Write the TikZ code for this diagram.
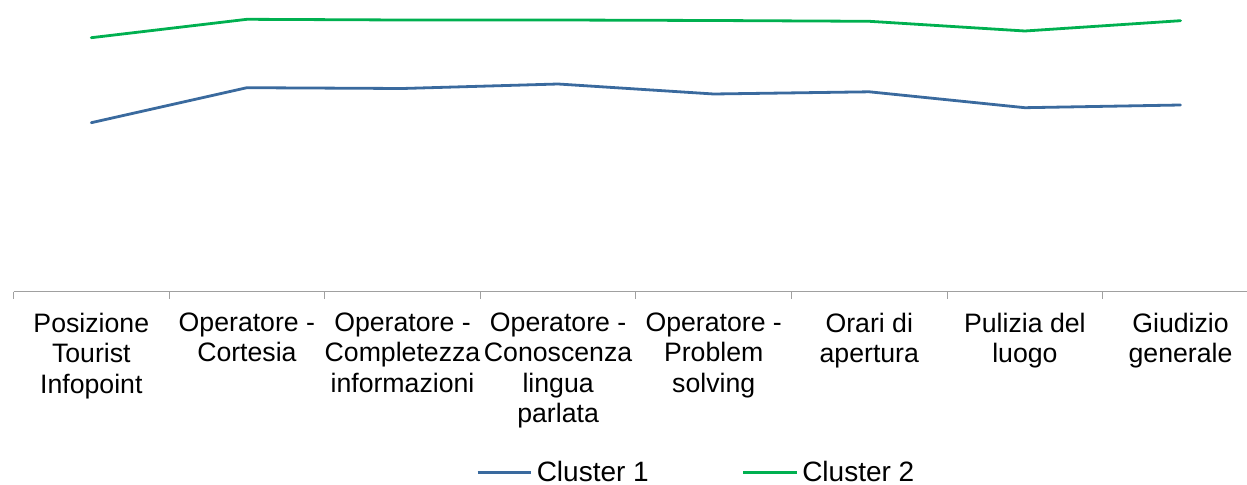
\documentclass[tikz,border=0pt]{standalone}
\usepackage{fontspec}
\setmainfont{Liberation Sans}
\definecolor{cblue}{HTML}{3A6A9E}
\definecolor{cgreen}{HTML}{00B050}
\definecolor{axisgray}{HTML}{A0A0A0}
\begin{document}
\begin{tikzpicture}[x=0.75pt,y=-0.75pt,
  series/.style={line width=2.1pt,line cap=round,line join=round},
  axisline/.style={draw=axisgray,line width=0.8pt},
  catlabel/.style={anchor=north,inner sep=0pt,align=center,font=\fontsize{20pt}{22.9pt}\selectfont},
  legtext/.style={anchor=base west,inner sep=0pt,font=\fontsize{21pt}{24pt}\selectfont}]
\useasboundingbox (0,0) rectangle (1247,485);
% axis
\coordinate (axL) at (13.5,291.5);
\coordinate (axR) at (1247,291.5);
\draw[axisline] (axL) -- (axR);
\foreach \i in {0,...,7}{
  \coordinate (t\i) at ({13.5+155.6*\i},291.5);
  \draw[axisline] (t\i) -- ++(0,7.5);
}
% category labels
\node[catlabel] (c1) at (91.3,312.5) {Posizione\\Tourist\\Infopoint};
\node[catlabel] (c2) at (246.9,312.5) {Operatore -\\Cortesia};
\node[catlabel] (c3) at (402.5,312.5) {Operatore -\\Completezza\\informazioni};
\node[catlabel] (c4) at (558.1,312.5) {Operatore -\\Conoscenza\\lingua\\parlata};
\node[catlabel] (c5) at (713.7,312.5) {Operatore -\\Problem\\solving};
\node[catlabel] (c6) at (869.3,312.5) {Orari di\\apertura};
\node[catlabel] (c7) at (1024.9,312.5) {Pulizia del\\luogo};
\node[catlabel] (c8) at (1180.5,312.5) {Giudizio\\generale};
% cluster 2 (green)
\coordinate (g1) at (91.3,37.7);
\coordinate (g2) at (246.9,19.3);
\coordinate (g3) at (402.5,20);
\coordinate (g4) at (558.1,20);
\coordinate (g5) at (713.7,20.5);
\coordinate (g6) at (869.3,21.3);
\coordinate (g7) at (1024.9,31);
\coordinate (g8) at (1180.5,20.7);
\draw[series,cgreen] (g1) -- (g2) -- (g3) -- (g4) -- (g5) -- (g6) -- (g7) -- (g8);
% cluster 1 (blue)
\coordinate (b1) at (91.3,122.7);
\coordinate (b2) at (246.9,87.7);
\coordinate (b3) at (402.5,88.5);
\coordinate (b4) at (558.1,84);
\coordinate (b5) at (713.7,94);
\coordinate (b6) at (869.3,91.8);
\coordinate (b7) at (1024.9,107.7);
\coordinate (b8) at (1180.5,105);
\draw[series,cblue] (b1) -- (b2) -- (b3) -- (b4) -- (b5) -- (b6) -- (b7) -- (b8);
% legend
\coordinate (l1a) at (477.5,472.8);
\coordinate (l1b) at (531,472.8);
\draw[series,cblue,line cap=butt] (l1a) -- (l1b);
\node[legtext] (leg1) at (536.5,481.8) {Cluster 1};
\coordinate (l2a) at (743,472.8);
\coordinate (l2b) at (796.5,472.8);
\draw[series,cgreen,line cap=butt] (l2a) -- (l2b);
\node[legtext] (leg2) at (802,481.8) {Cluster 2};
\end{tikzpicture}
\end{document}
